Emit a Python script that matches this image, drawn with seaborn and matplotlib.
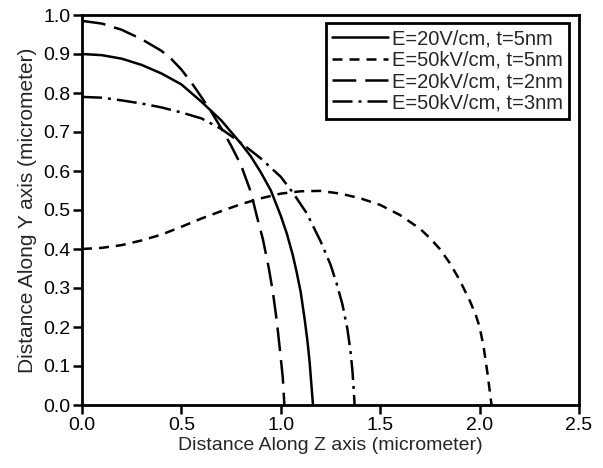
import numpy as np
import pandas as pd
import matplotlib
matplotlib.use("Agg")
import matplotlib.pyplot as plt
import seaborn as sns
from matplotlib.lines import Line2D

labels = ["E=20V/cm, t=5nm", "E=50kV/cm, t=5nm", "E=20kV/cm, t=2nm", "E=50kV/cm, t=3nm"]

z_a = [0, 0.1, 0.2, 0.3, 0.4, 0.5, 0.6, 0.7, 0.8, 0.85, 0.9, 0.95, 1.0, 1.03, 1.06, 1.08, 1.1, 1.12, 1.135, 1.145, 1.155, 1.162]
y_a = [0.900, 0.897, 0.888, 0.872, 0.850, 0.822, 0.778, 0.730, 0.670, 0.637, 0.596, 0.550, 0.485, 0.440, 0.385, 0.340, 0.290, 0.220, 0.160, 0.110, 0.045, 0.0]

z_b = [0, 0.1, 0.2, 0.3, 0.4, 0.5, 0.6, 0.7, 0.8, 0.9, 1.0, 1.1, 1.2, 1.3, 1.4, 1.5, 1.6, 1.7, 1.75, 1.8, 1.85, 1.9, 1.95, 1.98, 2.0, 2.02, 2.04, 2.06]
y_b = [0.400, 0.403, 0.410, 0.422, 0.437, 0.457, 0.478, 0.497, 0.515, 0.530, 0.542, 0.548, 0.549, 0.542, 0.530, 0.513, 0.487, 0.452, 0.428, 0.400, 0.364, 0.320, 0.268, 0.232, 0.20, 0.15, 0.08, 0.0]

z_c = [0, 0.1, 0.2, 0.3, 0.4, 0.45, 0.5, 0.55, 0.6, 0.65, 0.7, 0.75, 0.8, 0.85, 0.88, 0.91, 0.94, 0.96, 0.98, 1.0, 1.01, 1.018]
y_c = [0.985, 0.978, 0.962, 0.938, 0.908, 0.887, 0.860, 0.827, 0.790, 0.752, 0.710, 0.665, 0.615, 0.545, 0.483, 0.425, 0.350, 0.290, 0.215, 0.120, 0.070, 0.0]

z_d = [0, 0.1, 0.2, 0.3, 0.4, 0.5, 0.6, 0.7, 0.8, 0.9, 1.0, 1.06, 1.13, 1.2, 1.25, 1.28, 1.31, 1.335, 1.35, 1.36, 1.368, 1.371]
y_d = [0.790, 0.788, 0.781, 0.773, 0.763, 0.750, 0.735, 0.708, 0.672, 0.632, 0.585, 0.545, 0.492, 0.420, 0.360, 0.313, 0.258, 0.195, 0.140, 0.090, 0.030, 0.0]

xticks = [0.0, 0.5, 1.0, 1.5, 2.0, 2.5]
yticks = [0.0, 0.1, 0.2, 0.3, 0.4, 0.5, 0.6, 0.7, 0.8, 0.9, 1.0]

frames = []
for lab, z, y in zip(labels, [z_a, z_b, z_c, z_d], [y_a, y_b, y_c, y_d]):
    frames.append(pd.DataFrame({"z": z, "y": y, "series": lab}))
df = pd.concat(frames, ignore_index=True)

sns.set_style("ticks")
plt.rcParams['font.family'] = ['Liberation Sans', 'DejaVu Sans']

fig = plt.figure(figsize=(6.03, 4.68), dpi=100)
ax = fig.add_axes([82/603, 1-405/468, 497/603, 390/468])

dash_list = ["", (4.0, 2.8), (9.5, 3.6), (8.0, 2.4, 1.2, 2.4)]
dashes = dict(zip(labels, dash_list))
sns.lineplot(data=df, x="z", y="y", hue="series", style="series",
             palette=["black"] * 4, dashes=dashes, sort=False, estimator=None,
             linewidth=1.8, ax=ax, legend=False)

ax.set_xlim(0, 2.5)
ax.set_ylim(0, 1.0)
ax.set_xticks(xticks)
ax.set_yticks(yticks)
ax.set_xticklabels([f"{t:.1f}" for t in xticks], fontsize=14)
ax.set_yticklabels([f"{t:.1f}" for t in yticks], fontsize=14)
ax.set_xlabel("Distance Along Z axis (micrometer)", fontsize=14, labelpad=2)
ax.set_ylabel("Distance Along Y axis (micrometer)", fontsize=15, labelpad=4)
for s in ax.spines.values():
    s.set_visible(True)
    s.set_linewidth(2.0)
    s.set_color("black")
ax.tick_params(direction="out", length=6.5, width=1.8, colors="black", pad=2)

handles = []
for d in dash_list:
    h = Line2D([], [], color="black", lw=1.8)
    if d:
        h.set_dashes(d)
    handles.append(h)
leg = ax.legend(handles, labels, loc="upper right", bbox_to_anchor=(0.98, 0.979),
                borderaxespad=0, fontsize=14.5, frameon=True, fancybox=False,
                edgecolor="black", handlelength=2.8, labelspacing=0.12,
                handletextpad=0.2, borderpad=0.3)
leg.get_frame().set_linewidth(2.0)
leg.get_frame().set_alpha(1)

fig.savefig("out.png", dpi=100)
